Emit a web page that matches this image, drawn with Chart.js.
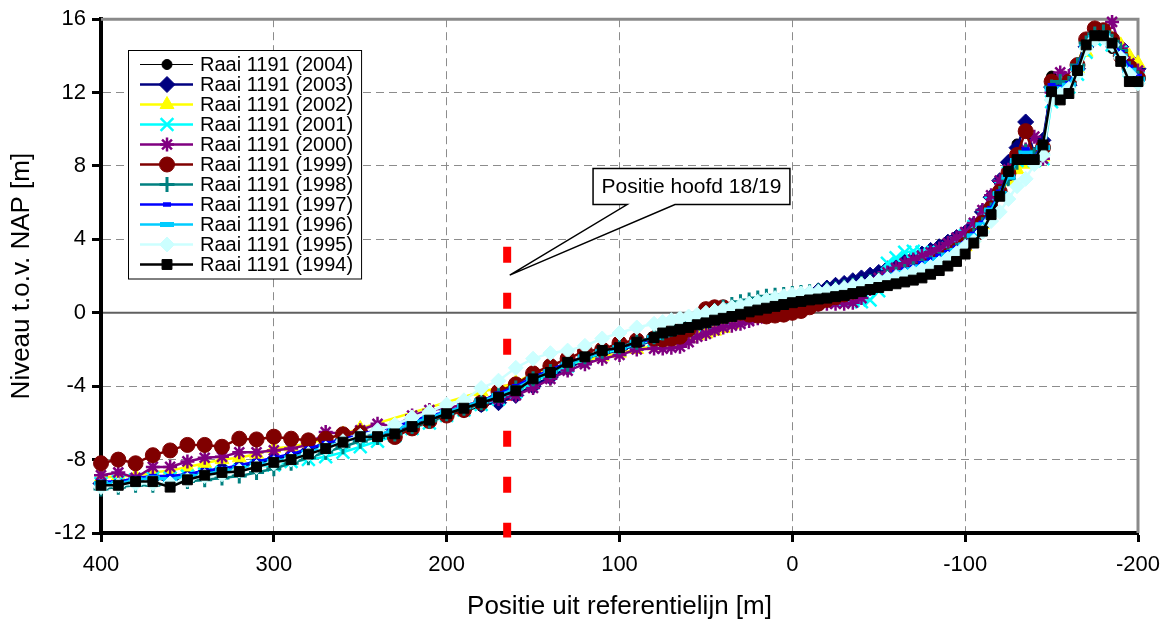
<!DOCTYPE html>
<html>
<head>
<meta charset="utf-8">
<script src="https://cdn.jsdelivr.net/npm/chart.js@4/dist/chart.umd.min.js"></script>
<style>
  html, body { margin: 0; padding: 0; background: #fff; }
  #wrap { position: relative; width: 1172px; height: 625px; }
</style>
</head>
<body>
<div id="wrap"><canvas id="c" width="1172" height="625"></canvas></div>
<script>
// Raai 1191 — dwarsprofielen 1994-2004, niveau t.o.v. NAP
const X = [400,390,380,370,360,350,340,330,320,310,300,290,280,270,260,250,240,230,220,210,200,190,180,170,160,150,140,130,120,110,100,90,
  80,75,70,65,60,55,50,45,40,35,30,25,20,15,10,5,0,
  -5,-10,-15,-20,-25,-30,-35,-40,-45,-50,-55,-60,-65,-70,-75,-80,-85,-90,-95,-100,
  -105,-110,-115,-120,-125,-130,-135,-140,-145,-150,-155,-160,-165,-170,-175,-180,-185,-190,-195,-200];

const Y2004 = [-9.3,-9.3,-9.1,-9.0,-9.2,-8.9,-8.7,-8.6,-8.5,-8.3,-8.1,-7.9,-7.6,-7.3,-7.0,-6.8,-6.7,-6.5,-6.2,-5.9,-5.6,-5.4,-5.1,-4.8,-4.5,-3.9,-3.5,-3.0,-2.6,-2.2,-2.0,-1.7,
  -1.45,-1.3,-1.15,-1.0,-0.9,-0.75,-0.6,-0.45,-0.3,-0.15,0.0,0.1,0.2,0.3,0.4,0.5,0.6,
  0.7,0.8,0.9,1.0,1.1,1.2,1.3,1.4,1.55,1.7,1.85,2.0,2.15,2.3,2.45,2.65,2.85,3.1,3.4,3.8,
  4.3,5.0,5.8,6.8,7.8,9.2,8.6,8.4,9.0,12.9,12.4,12.2,13.4,14.4,15.2,15.1,14.4,13.8,13.0,12.6];
const Y2003 = [-9.3,-9.2,-9.1,-9.0,-9.1,-8.9,-8.7,-8.5,-8.4,-8.2,-8.0,-7.8,-7.5,-7.2,-6.9,-6.7,-6.6,-6.4,-6.1,-5.8,-5.5,-5.3,-5.0,-4.9,-4.5,-4.0,-3.5,-3.0,-2.6,-2.3,-2.0,-1.8,
  -1.5,-1.35,-1.2,-1.05,-0.9,-0.75,-0.6,-0.45,-0.3,-0.15,0.0,0.15,0.3,0.45,0.6,0.75,0.85,
  0.95,1.05,1.2,1.35,1.5,1.6,1.75,1.9,2.05,2.2,2.4,2.6,2.8,3.0,3.2,3.4,3.6,3.85,4.1,4.35,
  4.8,5.5,6.3,7.2,8.2,9.0,10.4,8.6,9.4,12.3,12.0,12.4,13.3,14.5,15.0,15.2,14.8,14.5,13.8,13.3];
const Y2002 = [-9.0,-8.9,-8.9,-8.7,-8.6,-8.4,-8.2,-8.0,-7.9,-7.7,-7.4,-7.3,-7.1,-6.9,-6.6,-6.3,null,null,null,null,null,null,-4.3,-4.1,-3.8,-3.3,-3.0,-2.8,-2.6,-2.4,-2.2,-2.0,
  -1.8,-1.7,-1.6,-1.5,-1.4,-1.25,-1.15,-1.0,-0.85,-0.65,-0.4,-0.2,0.0,0.15,0.3,0.45,0.6,
  0.7,0.8,0.9,1.0,1.1,1.2,1.3,1.45,1.6,1.75,1.9,2.05,2.2,2.35,2.5,2.7,2.9,3.1,3.35,3.6,
  4.1,4.8,5.6,6.5,7.2,7.8,8.1,8.2,8.5,11.8,12.1,12.5,13.3,14.2,15.0,15.2,14.9,14.6,14.0,13.6];
const Y2001 = [-9.3,-9.2,-9.1,-9.0,-9.0,-8.9,-8.8,-8.7,-8.6,-8.4,-8.3,-8.1,-8.0,-7.85,-7.6,-7.3,-7.0,-6.7,-6.3,-6.0,-5.6,-5.3,-5.0,-4.7,-4.3,-3.8,-3.3,-2.9,-2.5,-2.2,-2.0,-1.7,
  -1.5,-1.35,-1.2,-1.05,-0.9,-0.75,-0.6,-0.45,-0.3,-0.15,0.0,0.1,0.2,0.3,0.4,0.45,0.5,
  0.55,0.6,0.62,0.65,0.65,0.65,0.65,0.6,0.7,1.2,2.7,3.0,3.3,3.35,3.3,3.2,3.3,3.5,3.8,4.2,
  4.7,5.3,6.0,6.9,7.6,8.3,8.6,8.3,8.4,11.5,12.0,12.3,13.0,14.2,14.9,15.0,14.6,14.2,13.2,12.8];
const Y2000 = [-8.85,-8.7,-9.0,-8.4,-8.4,-8.1,-7.9,-7.85,-7.6,-7.6,-7.5,-7.4,-7.2,-6.5,-6.6,-6.4,-6.05,-6.2,-5.6,-5.3,-5.2,-5.0,-4.9,-4.7,-4.5,-4.1,-3.6,-3.15,-2.8,-2.5,-2.3,-2.0,
  -1.95,-1.95,-1.9,-1.85,-1.6,-1.3,-1.15,-0.95,-0.8,-0.7,-0.6,-0.45,-0.3,-0.15,0.0,0.15,0.25,
  0.3,0.4,0.45,0.5,0.5,0.5,0.55,0.8,1.3,1.9,2.2,2.45,2.7,2.9,3.1,3.3,3.5,3.8,4.1,4.4,
  4.9,5.6,6.4,7.2,7.8,8.6,8.9,9.6,8.4,12.0,13.1,12.9,13.4,14.6,15.2,15.4,15.85,14.4,13.6,13.2];
const Y1999 = [-8.2,-8.0,-8.2,-7.76,-7.5,-7.2,-7.2,-7.3,-6.86,-6.9,-6.75,-6.86,-6.95,-6.86,-6.62,-6.55,-6.6,-6.77,-6.3,-5.9,-5.6,-5.3,-4.9,-4.3,-3.9,-3.3,-2.9,-2.5,-2.1,-2.0,-1.65,-1.5,
  -1.4,-1.45,-1.4,-1.3,-0.9,-0.3,0.2,0.3,0.3,0.2,0.0,-0.1,-0.15,-0.2,-0.15,-0.1,0.0,
  0.1,0.3,0.5,0.7,0.85,1.0,1.15,1.3,1.45,1.6,1.75,1.9,2.05,2.2,2.4,2.6,2.85,3.1,3.4,3.7,
  4.2,4.9,5.7,6.6,7.6,8.6,9.9,8.5,9.0,12.6,12.2,12.6,13.5,14.9,15.5,15.4,14.9,14.0,13.4,12.8];
const Y1998 = [-9.6,-9.5,-9.4,-9.4,-9.3,-9.2,-9.1,-9.0,-8.9,-8.7,-8.5,-8.2,-7.9,-7.6,-7.3,-7.0,-6.8,-6.6,-6.2,-5.9,-5.5,-5.2,-4.9,-4.5,-4.1,-3.6,-3.2,-2.8,-2.4,-2.1,-1.85,-1.6,
  -1.3,-1.1,-0.9,-0.7,-0.5,-0.3,-0.1,0.1,0.3,0.45,0.6,0.7,0.8,0.9,0.95,1.0,1.05,
  1.1,1.15,1.2,1.25,1.3,1.4,1.5,1.6,1.7,1.8,1.95,2.1,2.25,2.4,2.55,2.7,2.9,3.1,3.4,3.7,
  4.2,4.8,5.6,6.5,7.3,8.2,8.8,8.6,9.0,12.3,12.6,12.5,13.5,14.7,15.2,15.3,14.8,14.3,13.3,12.8];
const Y1997 = [-9.2,-9.2,-9.0,-8.9,-8.9,-8.8,-8.6,-8.5,-8.3,-8.1,-7.9,-7.7,-7.4,-7.1,-6.9,-6.6,-6.4,-6.2,-5.9,-5.6,-5.4,-5.1,-4.8,-4.4,-4.0,-3.5,-3.1,-2.7,-2.4,-2.1,-1.9,-1.65,
  -1.4,-1.25,-1.1,-0.95,-0.8,-0.65,-0.5,-0.35,-0.2,-0.05,0.1,0.2,0.3,0.4,0.5,0.6,0.7,
  0.8,0.9,1.0,1.1,1.2,1.3,1.45,1.6,1.75,1.9,2.05,2.2,2.35,2.5,2.7,2.9,3.1,3.3,3.55,3.8,
  4.3,4.9,5.7,6.6,7.5,8.5,8.9,8.5,9.1,12.4,12.3,12.5,13.4,14.6,15.1,15.1,14.7,14.2,13.4,12.9];
const Y1996 = [-9.3,-9.3,-9.1,-9.0,-9.1,-8.9,-8.8,-8.6,-8.5,-8.3,-8.1,-7.9,-7.6,-7.3,-7.0,-6.8,-6.6,-6.4,-6.0,-5.7,-5.4,-5.1,-4.8,-4.5,-4.1,-3.6,-3.2,-2.8,-2.4,-2.1,-1.9,-1.6,
  -1.35,-1.2,-1.05,-0.9,-0.75,-0.6,-0.45,-0.3,-0.15,0.0,0.1,0.2,0.3,0.4,0.5,0.6,0.65,
  0.7,0.8,0.9,1.0,1.1,1.2,1.3,1.45,1.6,1.75,1.9,2.05,2.2,2.35,2.5,2.7,2.9,3.15,3.4,3.7,
  4.2,4.8,5.6,6.5,7.4,8.3,8.7,8.4,9.0,12.2,12.2,12.4,13.3,14.5,15.0,15.1,14.6,14.0,13.2,12.7];
const Y1995 = [-9.5,-9.4,-9.3,-9.3,-9.3,-9.1,-8.9,-8.8,-8.6,-8.4,-8.2,-8.0,-7.7,-7.4,-7.0,-6.7,-6.4,-6.1,-5.7,-5.4,-5.0,-4.77,-4.1,-3.7,-3.0,-2.5,-2.2,-2.06,-1.8,-1.4,-1.1,-0.8,
  -0.6,-0.5,-0.4,-0.3,-0.2,-0.1,0.0,0.1,0.2,0.3,0.4,0.5,0.6,0.7,0.8,0.9,1.0,
  1.05,1.1,1.15,1.2,1.25,1.35,1.45,1.55,1.65,1.75,1.85,1.95,2.05,2.2,2.35,2.5,2.7,2.95,3.25,3.6,
  3.9,4.4,5.0,5.5,6.2,6.9,7.3,8.1,8.6,11.6,11.9,12.2,13.0,14.4,14.9,15.0,14.6,13.9,13.0,12.5];
const Y1994 = [-9.4,-9.4,-9.2,-9.2,-9.5,-9.1,-8.85,-8.7,-8.65,-8.4,-8.15,-8.0,-7.7,-7.4,-7.05,-6.75,-6.75,-6.6,-6.2,-5.85,-5.5,-5.2,-4.9,-4.6,-4.25,-3.6,-3.25,-2.7,-2.4,-2.05,-1.9,-1.6,
  -1.35,-1.1,-1.0,-0.9,-0.8,-0.65,-0.55,-0.4,-0.3,-0.2,-0.08,0.05,0.15,0.25,0.35,0.45,0.55,
  0.62,0.7,0.75,0.8,0.88,0.95,1.05,1.15,1.27,1.38,1.48,1.58,1.68,1.78,1.9,2.1,2.3,2.55,2.8,3.2,
  3.8,4.45,5.35,6.35,7.7,8.35,8.35,8.35,9.15,12.05,11.6,11.95,13.2,14.6,15.1,15.1,14.7,13.7,12.6,12.6];

const SERIES = [
  { label: 'Raai 1191 (2004)', data: Y2004, color: '#000000', line: 1.2, style: 'circle',   r: 5,   pw: 1 },
  { label: 'Raai 1191 (2003)', data: Y2003, color: '#000080', line: 2.5, style: 'rectRot',  r: 8,   pw: 1 },
  { label: 'Raai 1191 (2002)', data: Y2002, color: '#FFFF00', line: 2.5, style: 'triangle', r: 8,   pw: 1 },
  { label: 'Raai 1191 (2001)', data: Y2001, color: '#00FFFF', line: 2.5, style: 'crossRot', r: 9,   pw: 2.5 },
  { label: 'Raai 1191 (2000)', data: Y2000, color: '#800080', line: 2.5, style: 'star',     r: 7,   pw: 2.5 },
  { label: 'Raai 1191 (1999)', data: Y1999, color: '#800000', line: 2.5, style: 'circle',   r: 7.5, pw: 1 },
  { label: 'Raai 1191 (1998)', data: Y1998, color: '#008080', line: 2.5, style: 'cross',    r: 7.5, pw: 3 },
  { label: 'Raai 1191 (1997)', data: Y1997, color: '#0000FF', line: 2.5, style: 'line',     r: 4,   pw: 4.5 },
  { label: 'Raai 1191 (1996)', data: Y1996, color: '#00CCFF', line: 2.5, style: 'line',     r: 7,   pw: 5 },
  { label: 'Raai 1191 (1995)', data: Y1995, color: '#CCFFFF', line: 2.5, style: 'rectRot',  r: 7.5, pw: 1 },
  { label: 'Raai 1191 (1994)', data: Y1994, color: '#000000', line: 2.5, style: 'rect',     r: 7,   pw: 1 },
];

// positie hoofd 18/19 en het tekstballonnetje (in data-eenheden)
const HOOFD = { x: 165, top: 3.6, bottom: -12.25 };
const CALLOUT = { text: 'Positie hoofd 18/19', x0: 115.3, x1: 1.4, y0: 7.87, y1: 5.9, baseL: 95.6, baseR: 67.9, tipX: 163.5, tipY: 2.05 };
const LEG = { left: 128, top: 50, first: 64.5, row: 20, lineX0: 140, lineX1: 193, markX: 167, textX: 200 };

const FONT = "'Liberation Sans', Arial, sans-serif";
Chart.defaults.font.family = FONT;
Chart.defaults.color = '#000';

const decor = {
  id: 'decor',
  beforeDatasetsDraw(chart) {
    const { ctx, chartArea: a, scales: { x, y } } = chart;
    ctx.save();
    const y0 = y.getPixelForValue(0);
    ctx.strokeStyle = '#606060'; ctx.lineWidth = 2;
    ctx.beginPath(); ctx.moveTo(a.left + 2, y0); ctx.lineTo(a.right, y0); ctx.stroke();
    ctx.strokeStyle = '#8a8a8a'; ctx.lineWidth = 3;
    ctx.beginPath(); ctx.moveTo(a.left, a.top); ctx.lineTo(a.right, a.top); ctx.lineTo(a.right, a.bottom); ctx.stroke();
    const hx = x.getPixelForValue(HOOFD.x);
    ctx.strokeStyle = '#ff0000'; ctx.lineWidth = 8; ctx.setLineDash([16, 30]);
    ctx.beginPath(); ctx.moveTo(hx, y.getPixelForValue(HOOFD.top)); ctx.lineTo(hx, y.getPixelForValue(HOOFD.bottom)); ctx.stroke();
    ctx.restore();
  },
  afterDatasetsDraw(chart) {
    const { ctx, scales: { x, y } } = chart;
    ctx.save();
    // legenda
    ctx.font = '20px ' + FONT;
    const tw = Math.max(...SERIES.map(s => ctx.measureText(s.label).width));
    const boxR = LEG.textX + tw + 8;
    const boxB = LEG.first + (SERIES.length - 1) * LEG.row + 14;
    ctx.fillStyle = '#fff';
    ctx.fillRect(LEG.left, LEG.top, boxR - LEG.left, boxB - LEG.top);
    ctx.strokeStyle = '#000'; ctx.lineWidth = 1;
    ctx.strokeRect(LEG.left + 0.5, LEG.top + 0.5, boxR - LEG.left, boxB - LEG.top);
    SERIES.forEach((s, i) => {
      const cy = LEG.first + i * LEG.row;
      ctx.strokeStyle = s.color; ctx.lineWidth = s.line;
      ctx.beginPath(); ctx.moveTo(LEG.lineX0, cy); ctx.lineTo(LEG.lineX1, cy); ctx.stroke();
      ctx.fillStyle = s.color; ctx.lineWidth = s.pw;
      Chart.helpers.drawPoint(ctx, { pointStyle: s.style, radius: s.r, rotation: 0, borderWidth: s.pw }, LEG.markX, cy);
      ctx.fillStyle = '#000'; ctx.textAlign = 'left'; ctx.textBaseline = 'middle';
      ctx.fillText(s.label, LEG.textX, cy + 1);
    });
    // ballonnetje
    const px = v => x.getPixelForValue(v), py = v => y.getPixelForValue(v);
    const L = px(CALLOUT.x0), R = px(CALLOUT.x1), T = py(CALLOUT.y0), B = py(CALLOUT.y1);
    ctx.beginPath();
    ctx.moveTo(L, T); ctx.lineTo(R, T); ctx.lineTo(R, B);
    ctx.lineTo(px(CALLOUT.baseR), B);
    ctx.lineTo(px(CALLOUT.tipX), py(CALLOUT.tipY));
    ctx.lineTo(px(CALLOUT.baseL), B);
    ctx.lineTo(L, B); ctx.closePath();
    ctx.fillStyle = '#fff'; ctx.fill();
    ctx.strokeStyle = '#000'; ctx.lineWidth = 1.5; ctx.stroke();
    ctx.font = '21px ' + FONT; ctx.fillStyle = '#000';
    ctx.textAlign = 'center'; ctx.textBaseline = 'middle';
    ctx.fillText(CALLOUT.text, (L + R) / 2, (T + B) / 2 + 1);
    ctx.restore();
  }
};

const gridOpts = { color: '#8c8c8c', lineWidth: 1, tickLength: 9, tickWidth: 3, tickColor: '#000', tickBorderDash: [] };
const borderOpts = { display: true, color: '#000', width: 4, dash: [8, 5] };

new Chart(document.getElementById('c'), {
  type: 'line',
  data: {
    datasets: SERIES.map((s, i) => ({
      label: s.label,
      data: X.map((x, k) => ({ x, y: s.data[k] })),
      borderColor: s.color,
      backgroundColor: s.color,
      borderWidth: s.line,
      pointStyle: s.style,
      pointRadius: s.r,
      pointBorderWidth: s.pw,
      pointBackgroundColor: s.color,
      pointBorderColor: s.color,
      tension: 0,
      spanGaps: true,
      clip: false,
      order: SERIES.length - 1 - i,
    })),
  },
  options: {
    responsive: false,
    animation: false,
    events: [],
    layout: { padding: { left: 0, top: 17, right: 34, bottom: 0 } },
    plugins: { legend: { display: false }, tooltip: { enabled: false } },
    scales: {
      x: {
        type: 'linear', reverse: true, min: -200, max: 400,
        ticks: { stepSize: 100, color: '#000', font: { size: 22 }, padding: 10, maxRotation: 0, autoSkip: false },
        grid: gridOpts, border: borderOpts,
        title: { display: true, text: 'Positie uit referentielijn [m]', color: '#000', font: { size: 26 }, padding: { top: 0, bottom: 3 } },
        afterFit(s) { s.height = 92; },
      },
      y: {
        min: -12, max: 16,
        ticks: { stepSize: 4, color: '#000', font: { size: 22 }, padding: 6 },
        grid: gridOpts, border: borderOpts,
        title: { display: true, text: 'Niveau t.o.v. NAP [m]', color: '#000', font: { size: 26 }, padding: { top: 6, bottom: 0 } },
        afterFit(s) { s.width = 101; },
      },
    },
  },
  plugins: [decor],
});
</script>
</body>
</html>
